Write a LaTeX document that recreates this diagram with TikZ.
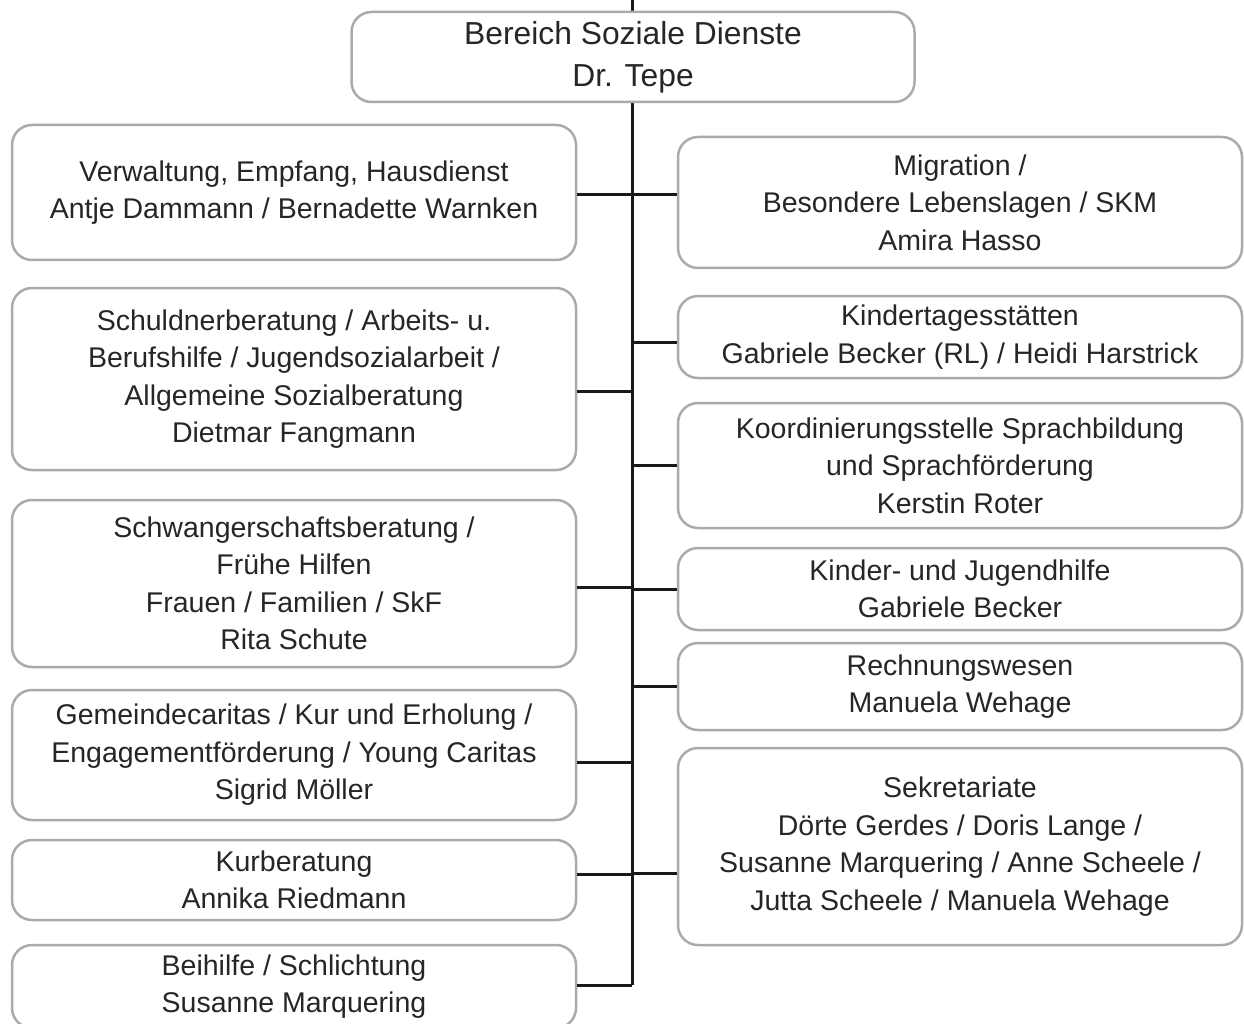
\documentclass[tikz,border=0pt]{standalone}
\usepackage{fontspec}
\setmainfont{Liberation Sans}
\begin{document}
\begin{tikzpicture}[x=1pt,y=-1pt,
	unit/.style={draw=black!33,line width=2.5pt,rounded corners=20pt,fill=white,align=center,text=black!85,inner sep=0pt,minimum width=564pt,font=\fontsize{28.5}{37.5}\selectfont},
	link/.style={line width=3pt,black!90}]
	\useasboundingbox (0,0) rectangle (1244,1024);
	\coordinate (stub) at (632,0);
	\coordinate (foot) at (632,985);
	\draw[link] (stub) -- (foot);
	\node[unit,minimum width=563pt,minimum height=90pt,font=\fontsize{31.8}{42}\selectfont] (top) at (633,57) {Bereich Soziale Dienste\\Dr. Tepe};
	% left column
	\node[unit,minimum height=135pt] (verw) at (294,192.5) {Verwaltung, Empfang, Hausdienst\\Antje Dammann / Bernadette Warnken};
	\node[unit,minimum height=182pt] (schuld) at (294,379) {Schuldnerberatung / Arbeits- u.\\Berufshilfe / Jugendsozialarbeit /\\Allgemeine Sozialberatung\\Dietmar Fangmann};
	\node[unit,minimum height=167pt] (schwanger) at (294,583.5) {Schwangerschaftsberatung /\\Frühe Hilfen\\Frauen / Familien / SkF\\Rita Schute};
	\node[unit,minimum height=130pt] (gemeinde) at (294,755) {Gemeindecaritas / Kur und Erholung /\\Engagementförderung / Young Caritas\\Sigrid Möller};
	\node[unit,minimum height=80pt] (kur) at (294,880) {Kurberatung\\Annika Riedmann};
	\node[unit,minimum height=83pt] (beihilfe) at (294,986.5) {Beihilfe / Schlichtung\\Susanne Marquering};
	% right column
	\node[unit,minimum height=131pt] (migration) at (960,202.5) {Migration /\\Besondere Lebenslagen / SKM\\Amira Hasso};
	\node[unit,minimum height=82pt] (kita) at (960,337) {Kindertagesstätten\\Gabriele Becker (RL) / Heidi Harstrick};
	\node[unit,minimum height=125pt] (sprache) at (960,465.5) {Koordinierungsstelle Sprachbildung\\und Sprachförderung\\Kerstin Roter};
	\node[unit,minimum height=82pt] (jugend) at (960,589) {Kinder- und Jugendhilfe\\Gabriele Becker};
	\node[unit,minimum height=87pt] (rechnung) at (960,686.5) {Rechnungswesen\\Manuela Wehage};
	\node[unit,minimum height=197pt] (sekretariat) at (960,846.5) {Sekretariate\\Dörte Gerdes / Doris Lange /\\Susanne Marquering / Anne Scheele /\\Jutta Scheele / Manuela Wehage};
	% branches
	\draw[link] ([yshift=-2.5pt]verw.east) -- ([yshift=-2.5pt]verw.east -| foot);
	\draw[link] ([yshift=-12pt]schuld.east) -- ([yshift=-12pt]schuld.east -| foot);
	\draw[link] ([yshift=-3.5pt]schwanger.east) -- ([yshift=-3.5pt]schwanger.east -| foot);
	\draw[link] ([yshift=-7pt]gemeinde.east) -- ([yshift=-7pt]gemeinde.east -| foot);
	\draw[link] ([yshift=6pt]kur.east) -- ([yshift=6pt]kur.east -| foot);
	\draw[link] (beihilfe.east |- foot) -- (foot);
	\draw[link] ([yshift=7.5pt]migration.west) -- ([yshift=7.5pt]migration.west -| foot);
	\draw[link] ([yshift=-5pt]kita.west) -- ([yshift=-5pt]kita.west -| foot);
	\draw[link] (sprache.west) -- (sprache.west -| foot);
	\draw[link] (jugend.west) -- (jugend.west -| foot);
	\draw[link] (rechnung.west) -- (rechnung.west -| foot);
	\draw[link] ([yshift=-26.5pt]sekretariat.west) -- ([yshift=-26.5pt]sekretariat.west -| foot);
\end{tikzpicture}
\end{document}
